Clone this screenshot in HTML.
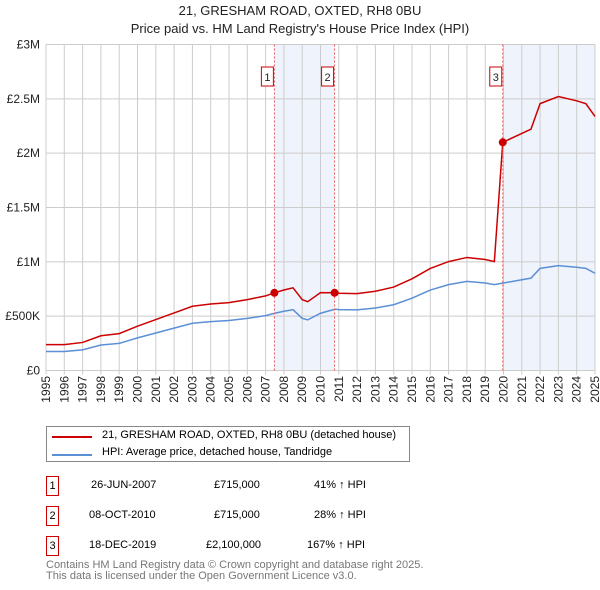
<!DOCTYPE html>
<html><head><meta charset="utf-8"><style>
body{margin:0;width:600px;height:590px;background:#fff;font-family:"Liberation Sans","DejaVu Sans",sans-serif;position:relative;overflow:hidden}
.t{position:absolute;left:0;width:600px;text-align:center;font-size:13px;color:#222}
.lg{position:absolute;left:46px;top:426px;width:362px;height:34px;border:1px solid #888;font-size:11px}
.row{position:absolute;left:46px;font-size:11px;height:20px;width:400px}
.box{position:absolute;left:0;top:0;width:11px;height:18px;border:1px solid #c00;text-align:center;line-height:18px}
.c{position:absolute;top:3px}
.ft{position:absolute;left:46px;font-size:11px;color:#777}
</style></head><body>
<div class="t" style="top:3px">21, GRESHAM ROAD, OXTED, RH8 0BU</div>
<div class="t" style="top:21px">Price paid vs. HM Land Registry's House Price Index (HPI)</div>
<svg id="ch" width="600" height="410" style="position:absolute;left:0;top:0"></svg>
<div class="lg">
<div style="position:absolute;left:5px;top:9px;width:40px;height:2px;background:#c00"></div>
<div style="position:absolute;left:55px;top:2px">21, GRESHAM ROAD, OXTED, RH8 0BU (detached house)</div>
<div style="position:absolute;left:5px;top:27px;width:40px;height:2px;background:#5b8fd6"></div>
<div style="position:absolute;left:55px;top:19px">HPI: Average price, detached house, Tandridge</div>
</div>
<div class="row" style="top:476px"><div class="box">1</div><div class="c" style="left:45px">26-JUN-2007</div><div class="c" style="left:168px">£715,000</div><div class="c" style="left:268px">41% ↑ HPI</div></div>
<div class="row" style="top:506px"><div class="box">2</div><div class="c" style="left:43px">08-OCT-2010</div><div class="c" style="left:168px">£715,000</div><div class="c" style="left:268px">28% ↑ HPI</div></div>
<div class="row" style="top:536px"><div class="box">3</div><div class="c" style="left:43px">18-DEC-2019</div><div class="c" style="left:160px">£2,100,000</div><div class="c" style="left:261px">167% ↑ HPI</div></div>
<div class="ft" style="top:559px">Contains HM Land Registry data © Crown copyright and database right 2025.</div>
<div class="ft" style="top:570px">This data is licensed under the Open Government Licence v3.0.</div>
<script>
const hpiYears=[1995,1996,1997,1998,1999,2000,2001,2002,2003,2004,2005,2006,2007,2007.5,2008,2008.5,2009,2009.3,2010,2010.8,2011,2012,2013,2014,2015,2016,2017,2018,2019,2019.5,2020,2021,2021.5,2022,2023,2024,2024.5,2025];
const hpiValues=[175000,175000,190000,235000,250000,300000,345000,390000,435000,450000,460000,480000,505000,527000,545000,560000,480000,466000,527000,565000,560000,558000,575000,605000,665000,740000,790000,820000,805000,790000,805000,835000,850000,940000,965000,950000,940000,895000];
const saleYears=[2007.48,2010.77,2019.96];
const salePrices=[715000,715000,2100000];
const yTicks=[0,500000,1000000,1500000,2000000,2500000,3000000];
const yLabels=["£0","£500K","£1M","£1.5M","£2M","£2.5M","£3M"];
const xYears=[1995,1996,1997,1998,1999,2000,2001,2002,2003,2004,2005,2006,2007,2008,2009,2010,2011,2012,2013,2014,2015,2016,2017,2018,2019,2020,2021,2022,2023,2024,2025];
const X=y=>46+(y-1995)*(549/30), Y=v=>370.5-v*(326/3000000);
const s=document.getElementById('ch'),NS='http://www.w3.org/2000/svg';
function mk(t,a){const e=document.createElementNS(NS,t);for(const k in a)e.setAttribute(k,a[k]);s.appendChild(e);return e;}
function hpiAt(y){for(let i=0;i<hpiYears.length-1;i++){if(y<=hpiYears[i+1]){const f=(y-hpiYears[i])/(hpiYears[i+1]-hpiYears[i]);return hpiValues[i]+f*(hpiValues[i+1]-hpiValues[i]);}}return hpiValues[hpiValues.length-1];}
let r=mk('rect',{x:X(saleYears[0]),y:Y(3000000),width:X(saleYears[1])-X(saleYears[0]),height:Y(0)-Y(3000000),fill:'#eef3fc'});


r=mk('rect',{x:X(saleYears[2]),y:Y(3000000),width:X(2025)-X(saleYears[2]),height:Y(0)-Y(3000000),fill:'#eef3fc'});


xYears.forEach(y=>{const l=mk('line',{x1:X(y),x2:X(y),y1:Y(3000000),y2:Y(0)+4,stroke:'#ccc'});


const t=mk('text',{x:0,y:0,'text-anchor':'end','font-size':12,fill:'#222',transform:`translate(${X(y)+4},376) rotate(-90)`});t.textContent=y;

});
yTicks.forEach((v,i)=>{const l=mk('line',{x1:X(1995),x2:X(2025),y1:Y(v),y2:Y(v),stroke:'#ccc'});


const t=mk('text',{x:40,y:Y(v)+4,'text-anchor':'end','font-size':12,fill:'#222'});t.textContent=yLabels[i];

});
const pts=[];for(let i=0;i<hpiYears.length;i++)pts.push(hpiYears[i]);saleYears.forEach(y=>pts.push(y,y+0.001));pts.sort((a,b)=>a-b);
function redAt(y){let k=0;for(let i=0;i<saleYears.length;i++)if(y>=saleYears[i])k=i;return salePrices[k]*hpiAt(y)/hpiAt(saleYears[k]);}
let hp=mk('polyline',{points:hpiYears.map((y,i)=>X(y)+','+Y(hpiValues[i])).join(' '),fill:'none',stroke:'#5b8fd6','stroke-width':1.5});


let rp=mk('polyline',{points:pts.map(y=>X(y)+','+Y(redAt(y))).join(' '),fill:'none',stroke:'#c00','stroke-width':1.5});


saleYears.forEach((y,i)=>{const l=mk('line',{x1:X(y),x2:X(y),y1:Y(3000000),y2:Y(0),stroke:'#e55','stroke-dasharray':'2,2'});


const c=mk('circle',{cx:X(y),cy:Y(salePrices[i]),r:4,fill:'#c00'});


const b=mk('rect',{x:X(y)-13,y:67,width:12,height:19,fill:'#fff',stroke:'#c00'});


const t=mk('text',{x:X(y)-7,y:81,'text-anchor':'middle','font-size':11,fill:'#222'});t.textContent=i+1;

});
</script>
</body></html>
